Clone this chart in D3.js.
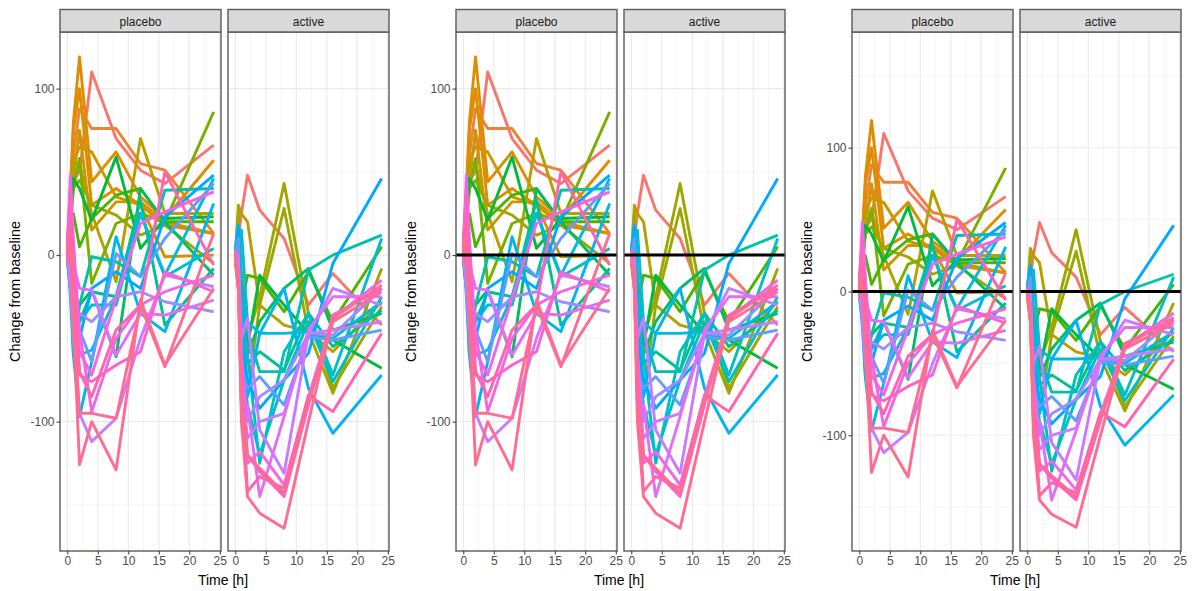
<!DOCTYPE html>
<html><head><meta charset="utf-8">
<script src="https://cdn.jsdelivr.net/npm/d3@7"></script>
<style>html,body{margin:0;background:#fff}svg{display:block}text{font-family:"Liberation Sans",Arial,sans-serif}</style>
</head><body><svg id="c" width="1192" height="591"></svg>
<script>
const times=[0,0.5,1,2,4,8,12,16,24];
const facetNames=["placebo","active"];
const xTicks=[0,5,10,15,20,25];
const xMinor=[2.5,7.5,12.5,17.5,22.5];
const yTicks=[100,0,-100];
const yMinor=[150,50,-50,-150];
const palette=["#F8766D","#EC8239","#DE8C00","#CD9600","#B79F00","#9DA700","#7CAE00","#4BB400","#00BA38","#00BD64","#00C08B","#00C1A9","#00BFC4","#00BBDC","#00B4F0","#00A9FF","#619CFF","#9F8CFF","#C77CFF","#E26EF7","#F564E3","#FF61CC","#FF64B0","#FF6C91"];
const placeboIds=[0,1,2,2,3,3,4,5,6,7,8,9,10,11,12,13,14,15,16,17,18,19,20,20,21,22,23,23];
const placebo=[
[3,25,45,50,110,70,51,43,66],
[5,30,60,88,76,76,55,51,13],
[8,40,80,119,44,62,35,22,57],
[2,30,75,100,30,40,30,18,13],
[-2,30,56,65,62,35,30,-1,0],
[4,25,45,75,15,32,32,20,13],
[0,30,55,55,25,-16,70,25,25],
[2,20,40,45,30,24,12,18,-5],
[-3,20,40,58,-17,19,25,20,86],
[1,15,25,5,22,36,40,20,20],
[0,25,46,40,21,59,4,22,23],
[-4,-20,-40,-30,-21,-61,40,20,-12],
[5,-15,-50,-40,-22,-25,33,-42,-8],
[2,-10,-60,-30,-1,-4,-13,39,40],
[0,-5,-30,-40,-30,-30,25,-13,4],
[-2,-15,-40,-60,-57,-25,25,-12,46],
[3,-25,-60,-97,-64,11,-35,-46,31],
[0,-10,-40,-50,-20,-10,-20,23,48],
[1,-15,-35,-45,-64,1,-13,10,43],
[-3,-10,-30,-35,-40,-25,-22,-28,-34],
[2,-20,-50,-95,-112,-98,-50,-12,-19],
[-1,15,-5,-20,-21,-60,-35,-36,-27],
[0,30,5,-45,-94,-50,-30,-22,-12],
[3,48,10,-58,-72,-26,19,26,38],
[4,35,-10,-72,-76,-66,-58,-10,-22],
[-5,20,-10,-70,-85,-45,-30,50,-6],
[0,10,-40,-126,-100,-129,-27,-66,-20],
[8,5,-30,-95,-95,-98,-30,-67,13]
];
const activeIds=[0,4,5,5,7,8,9,10,11,12,12,13,14,15,16,17,18,18,19,20,21,22,23,23];
const active=[
[2,10,25,48,27,10,-30,-11,-42],
[-3,30,25,20,-30,-42,-46,-58,-28],
[0,25,-10,-50,-25,43,-35,-80,-31],
[-5,-20,-60,-85,-30,28,-46,-83,-8],
[0,-5,-30,-12,-14,-34,-10,-40,5],
[3,10,-20,-55,-12,-30,-47,-51,-68],
[-2,-10,-40,-60,-40,-20,-8,-45,-35],
[0,-5,-30,-65,-58,-69,-35,-55,-33],
[2,15,-20,-45,-70,-70,-9,0,12],
[-1,-20,-60,-90,-120,-75,-40,-76,-25],
[1,5,-30,-60,-125,-58,-35,-72,10],
[0,15,15,-40,-47,-47,-46,-50,-28],
[4,18,-25,-85,-47,-20,-80,-107,-72],
[-2,16,-50,-75,-92,-75,-59,-5,46],
[0,10,-70,-80,-73,-90,-49,-51,-45],
[-3,0,-60,-100,-85,-75,-47,-48,-20],
[-1,-10,-80,-110,-100,-95,-47,-45,-40],
[0,-5,-50,-38,-105,-131,-47,-20,-30],
[2,-10,-90,-90,-145,-97,-45,-25,-25],
[0,-15,-70,-125,-118,-138,-85,-38,-15],
[-2,-10,-60,-120,-130,-145,-90,-36,-20],
[3,-20,-80,-142,-133,-140,-84,-94,-47],
[0,-20,-100,-145,-155,-164,-100,-38,-18],
[-1,-15,-90,-120,-128,-143,-88,-40,-22]
];
const charts=[
 {left:0,yMax:134,yMin:-177.7,hline:false},
 {left:396,yMax:134,yMin:-177.7,hline:true},
 {left:792,yMax:180.5,yMin:-180.5,hline:true}
];
const svg=d3.select("#c");
const panelTop=32,panelBot=551,stripTop=9.5,panelW=161,panelGap=168;
const fmt=d=>String(d);
charts.forEach((ch,ci)=>{
 const g=svg.append("g").attr("transform",`translate(${ch.left},0)`);
 const y=d3.scaleLinear().domain([ch.yMin,ch.yMax]).range([panelBot,panelTop]);
 facetNames.forEach((name,fi)=>{
  const p=g.append("g").attr("transform",`translate(${60+fi*panelGap},0)`);
  const x=d3.scaleLinear().domain([-1.2,25.2]).range([0,panelW]);
  p.append("rect").attr("x",0).attr("y",panelTop).attr("width",panelW).attr("height",panelBot-panelTop).attr("fill","#fff");
  p.selectAll(".mx").data(xMinor).join("line").attr("x1",x).attr("x2",x).attr("y1",panelTop).attr("y2",panelBot).attr("stroke","#F1F1F1").attr("stroke-width",.8);
  p.selectAll(".my").data(yMinor.filter(v=>v<=ch.yMax&&v>=ch.yMin)).join("line").attr("x1",0).attr("x2",panelW).attr("y1",y).attr("y2",y).attr("stroke","#F1F1F1").attr("stroke-width",.8);
  p.selectAll(".Mx").data(xTicks).join("line").attr("x1",x).attr("x2",x).attr("y1",panelTop).attr("y2",panelBot).attr("stroke","#EBEBEB").attr("stroke-width",1.2);
  p.selectAll(".My").data(yTicks).join("line").attr("x1",0).attr("x2",panelW).attr("y1",y).attr("y2",y).attr("stroke","#EBEBEB").attr("stroke-width",1.2);
  const rows=fi===0?placebo:active, ids=fi===0?placeboIds:activeIds;
  const line=d3.line().x((d,i)=>x(times[i])).y(d=>y(d));
  rows.forEach((r,i)=>p.append("path").attr("d",line(r)).attr("fill","none").attr("stroke",palette[ids[i]]).attr("stroke-width",2.9).attr("stroke-linejoin","round"));
  if(ch.hline)p.append("line").attr("x1",0).attr("x2",panelW).attr("y1",y(0)).attr("y2",y(0)).attr("stroke","#000").attr("stroke-width",3);
  p.append("rect").attr("x",0).attr("y",panelTop).attr("width",panelW).attr("height",panelBot-panelTop).attr("fill","none").attr("stroke","#5a5a5a").attr("stroke-width",1.4);
  p.append("rect").attr("x",0).attr("y",stripTop).attr("width",panelW).attr("height",panelTop-stripTop).attr("fill","#D9D9D9").attr("stroke","#5a5a5a").attr("stroke-width",1.4);
  p.append("text").attr("x",panelW/2).attr("y",25.5).attr("text-anchor","middle").attr("font-size",12).attr("fill","#1A1A1A").text(name);
  const ax=p.append("g").attr("transform",`translate(0,${panelBot})`).call(d3.axisBottom(x).tickValues(xTicks).tickFormat(fmt).tickSize(3.5).tickPadding(2));
  ax.select(".domain").remove();
  ax.selectAll("line").attr("stroke","#333");
  ax.selectAll("text").attr("font-size",12).attr("fill","#4D4D4D").attr("font-family","Liberation Sans");
 });
 const ay=g.append("g").attr("transform","translate(60,0)").call(d3.axisLeft(y).tickValues(yTicks).tickFormat(fmt).tickSize(3.5).tickPadding(2));
 ay.select(".domain").remove();
 ay.selectAll("line").attr("stroke","#333");
 ay.selectAll("text").attr("font-size",12).attr("fill","#4D4D4D").attr("font-family","Liberation Sans");
 g.append("text").attr("x",223).attr("y",585).attr("text-anchor","middle").attr("font-size",14).attr("fill","#000").text("Time [h]");
 g.append("text").attr("transform",`translate(20,${(panelTop+panelBot)/2}) rotate(-90)`).attr("text-anchor","middle").attr("font-size",14.4).attr("fill","#000").text("Change from baseline");
});
</script></body></html>
